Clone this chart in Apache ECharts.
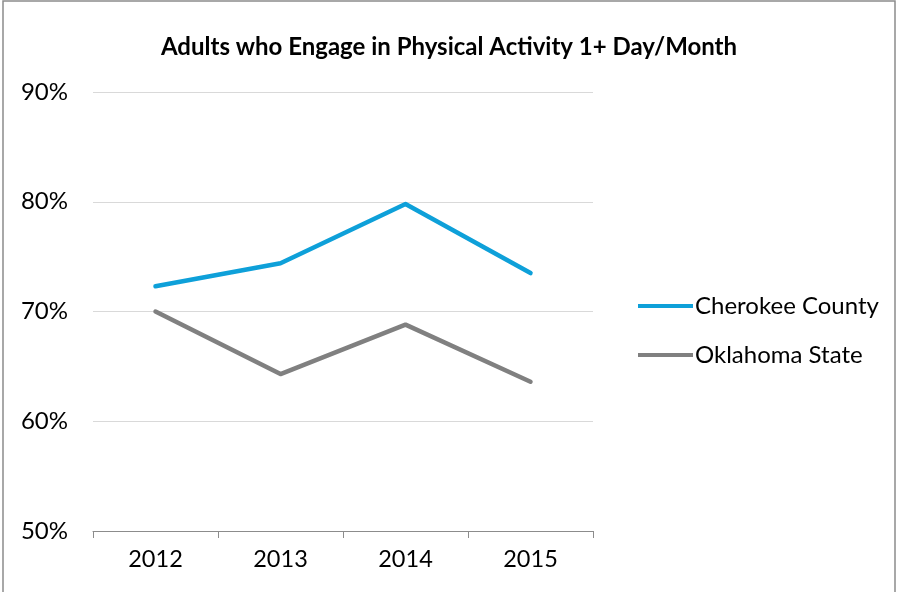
<!DOCTYPE html>
<html>
<head>
<meta charset="utf-8">
<script src="https://cdn.jsdelivr.net/npm/echarts@6/dist/echarts.min.js"></script>
<style>
  html, body { margin: 0; padding: 0; background: #fff; }
  #chart { width: 898px; height: 592px; }
</style>
</head>
<body>
<div id="chart"></div>
<script>
// data
const years = ['2012', '2013', '2014', '2015'];
const cherokee = [72.3, 74.4, 79.8, 73.5];
const oklahoma = [70.0, 64.3, 68.8, 63.6];

const font = 'Lato, "Open Sans", sans-serif';

let myChart = echarts.init(document.getElementById('chart'));
let option = {
  backgroundColor: '#fff',
  animation: false,
  title: {
    text: 'Adults who Engage in Physical Activity 1+ Day/Month',
    left: 'center',
    top: 30,
    textStyle: { fontFamily: font, fontWeight: 'bold', fontSize: 24, color: '#000' }
  },
  graphic: [{
    type: 'rect',
    shape: { x: 3, y: 1, width: 892, height: 600 },
    style: { fill: 'none', stroke: '#8c8c8c', lineWidth: 1.5 },
    silent: true
  }],
  legend: {
    orient: 'vertical',
    left: 633,
    top: 289,
    itemWidth: 55,
    itemHeight: 24,
    itemGap: 25,
    icon: 'path://M0,10 L55,10 L55,14 L0,14 Z',
    textStyle: { fontFamily: font, fontSize: 24, color: '#000', padding: [0, 0, 0, -3] },
    data: ['Cherokee County', 'Oklahoma State']
  },
  grid: { left: 93, right: 305, top: 92, bottom: 61 },
  xAxis: {
    type: 'category',
    data: years,
    boundaryGap: true,
    axisLine: { lineStyle: { color: '#8c8c8c', width: 1 } },
    axisTick: { show: true, length: 7, lineStyle: { color: '#8c8c8c' } },
    axisLabel: { fontFamily: font, fontSize: 23.5, color: '#000', margin: 16 }
  },
  yAxis: {
    type: 'value',
    min: 50,
    max: 90,
    interval: 10,
    axisLine: { show: false },
    axisTick: { show: false },
    axisLabel: { fontFamily: font, fontSize: 24, color: '#000', margin: 25, formatter: '{value}%' },
    splitLine: { lineStyle: { color: '#d9d9d9', width: 1 } }
  },
  series: [
    {
      name: 'Cherokee County',
      type: 'line',
      data: cherokee,
      symbol: 'none',
      lineStyle: { color: '#0ea0d9', width: 4.5, cap: 'round', join: 'round' },
      itemStyle: { color: '#0ea0d9' }
    },
    {
      name: 'Oklahoma State',
      type: 'line',
      data: oklahoma,
      symbol: 'none',
      lineStyle: { color: '#808080', width: 4.5, cap: 'round', join: 'round' },
      itemStyle: { color: '#808080' }
    }
  ]
};
myChart.setOption(option, true);
</script>
</body>
</html>
